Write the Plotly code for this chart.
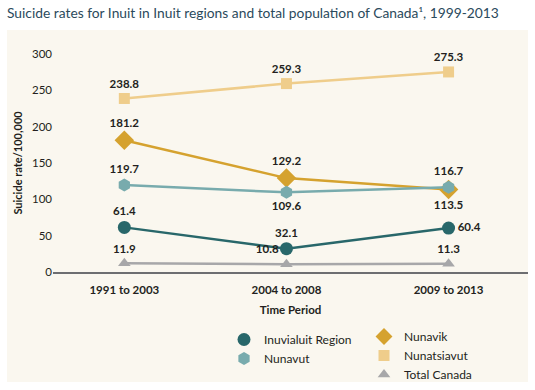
import plotly.graph_objects as go

categories = ["1991 to 2003", "2004 to 2008", "2009 to 2013"]
inuvialuit = [61.4, 32.1, 60.4]
nunavut = [119.7, 109.6, 116.7]
nunavik = [181.2, 129.2, 113.5]
nunatsiavut = [238.8, 259.3, 275.3]
total_canada = [11.9, 10.8, 11.3]
y_ticks = [0, 50, 100, 150, 200, 250, 300]

FONT = "Lato"
LBL = dict(family=FONT, size=11.5, color="#231f20", weight="bold")

fig = go.Figure()

series = {}

def add(name, vals, color, symbol, size, pos):
    fig.add_trace(go.Scatter(
        x=categories, y=vals, name=name, mode="lines+markers+text",
        line=dict(color=color, width=2.5),
        marker=dict(color=color, symbol=symbol, size=size),
        text=[f"{v:.1f}" for v in vals], textposition=pos,
        textfont=LBL, cliponaxis=False, showlegend=False,
    ))
    series[name] = (color, symbol, size)

add("Nunatsiavut", nunatsiavut, "#efcd8b", "square", 11,
    ["top center", "top center", "top center"])
add("Nunavik", nunavik, "#d5a22f", "diamond", 15,
    ["top center", "top center", "bottom center"])
add("Nunavut", nunavut, "#78abad", "hexagon", 13,
    ["top center", "bottom center", "top center"])
add("Inuvialuit Region", inuvialuit, "#28676a", "circle", 13,
    ["top center", "top center", "middle right"])
add("Total Canada", total_canada, "#a7a7a9", "triangle-up", 11,
    ["top center", "top left", "top center"])

legend_groups = {
    "legend": ["Inuvialuit Region", "Nunavut"],
    "legend2": ["Nunavik", "Nunatsiavut", "Total Canada"],
}
for leg, names in legend_groups.items():
    for n in names:
        c, s, z = series[n]
        fig.add_trace(go.Scatter(
            x=[None], y=[None], name=n, mode="markers",
            marker=dict(color=c, symbol=s, size=min(z, 13)), legend=leg, showlegend=True,
        ))

fig.add_shape(type="rect", xref="paper", yref="paper",
              x0=-0.0968, x1=1.0, y0=-0.5046, y1=1.110,
              fillcolor="#faf7ef", line_width=0, layer="below")

fig.update_layout(
    width=535, height=390,
    margin=dict(l=53, r=7, t=54, b=118, autoexpand=False),
    paper_bgcolor="white", plot_bgcolor="rgba(0,0,0,0)",
    font=dict(family=FONT, size=11, color="#231f20"),
    title=dict(text="Suicide rates for Inuit in Inuit regions and total population of Canada¹, 1999-2013",
               font=dict(family=FONT, size=13.8, color="#2b4a5c"),
               xref="container", yref="container", x=7/535, xanchor="left",
               y=1-13/390, yanchor="middle"),
    xaxis=dict(type="category", range=[-0.44, 2.49], showgrid=False,
               showline=True, linecolor="#6d6e71", linewidth=1.5,
               ticks="", ticklabelstandoff=6,
               tickfont=dict(family=FONT, size=11.5, color="#231f20", weight="bold"),
               title=dict(text="Time Period", font=dict(family=FONT, size=11.5, color="#231f20", weight="bold"),
                          standoff=11),
               zeroline=False),
    yaxis=dict(range=[0, 300], tickvals=y_ticks, showgrid=False, zeroline=False,
               showline=False, ticks="", tickfont=dict(family=FONT, size=11.5, color="#231f20"),
               title=dict(text="Suicide rate/100,000", font=dict(family=FONT, size=11, color="#231f20", weight="bold"),
                          standoff=7)),
    legend=dict(x=(224-53)/475, y=(272-325)/218, xanchor="left", yanchor="top",
                bgcolor="rgba(0,0,0,0)", font=dict(family=FONT, size=12, color="#231f20"),
                traceorder="normal", tracegroupgap=0),
    legend2=dict(x=(364-53)/475, y=(272-322)/218, xanchor="left", yanchor="top",
                 bgcolor="rgba(0,0,0,0)", font=dict(family=FONT, size=12, color="#231f20"),
                 traceorder="normal", tracegroupgap=0),
    showlegend=True,
)

fig.write_html("out.html", config={"displayModeBar": False},
               post_script="document.body.style.margin='0';")
